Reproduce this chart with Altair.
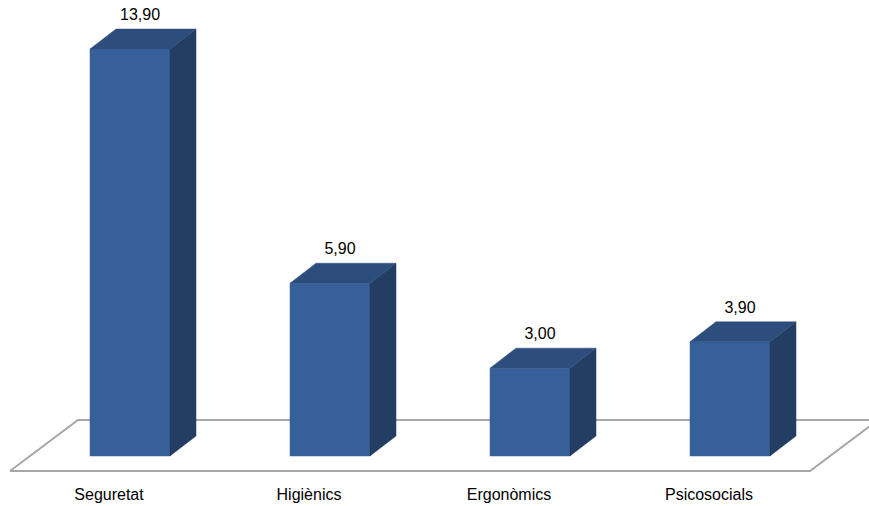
import altair as alt
import pandas as pd

# ---- data ----
categories = ["Seguretat", "Higiènics", "Ergonòmics", "Psicosocials"]
values = [13.90, 5.90, 3.00, 3.90]

# ---- 3D geometry (in data units) ----
HW = 0.2      # half bar width (category units)
DX = 0.13     # depth offset in x (category units)
DY = 0.683    # depth offset in y (value units)

XDOM = [-0.65, 3.695]
YDOM = [-1.708, 15.574]

FRONT = "#37609a"
TOP = "#2d4e7d"
SIDE = "#233e62"

front_rows, side_rows, top_rows = [], [], []
for i, (c, v) in enumerate(zip(categories, values)):
    xl, xr = i - HW, i + HW
    front_rows.append({"cat": c, "x": xl, "x2": xr, "y": v, "y2": 0.0})
    side_rows += [
        {"cat": c, "x": xr, "y": v, "y2": 0.0},
        {"cat": c, "x": xr + DX, "y": v + DY, "y2": DY},
    ]
    top_rows += [
        {"cat": c, "x": xl, "y": v, "y2": v},
        {"cat": c, "x": xl + DX, "y": v + DY, "y2": v},
        {"cat": c, "x": xr, "y": v + DY, "y2": v},
        {"cat": c, "x": xr + DX, "y": v + DY, "y2": v + DY},
    ]

label_df = pd.DataFrame({
    "cat": categories,
    "v": values,
    "xc": [i + 0.05 for i in range(len(categories))],
    "yt": [v + DY for v in values],
    "xl": [i - 0.105 for i in range(len(categories))],
})

FL_FRONT_Y = -0.512
FL_BACK_Y = 1.23
FL_DX = 0.34
floor_pts = [(-0.6, FL_FRONT_Y), (3.4, FL_FRONT_Y), (3.4 + FL_DX, FL_BACK_Y),
             (-0.6 + FL_DX, FL_BACK_Y), (-0.6, FL_FRONT_Y)]
floor_df = pd.DataFrame({"o": range(len(floor_pts)),
                         "x": [p[0] for p in floor_pts],
                         "y": [p[1] for p in floor_pts]})

xs = alt.Scale(domain=XDOM, nice=False, zero=False)
ys = alt.Scale(domain=YDOM, nice=False, zero=False)
X = lambda f: alt.X(f, type="quantitative", scale=xs, axis=None)
Y = lambda f: alt.Y(f, type="quantitative", scale=ys, axis=None)

floor = alt.Chart(floor_df).mark_line(color="#a6a6a6", strokeWidth=2, clip=True).encode(
    x=X("x"), y=Y("y"), order="o:Q")

front = alt.Chart(pd.DataFrame(front_rows)).mark_rect(color=FRONT, stroke=FRONT, strokeWidth=0.5).encode(
    x=X("x"), x2="x2", y=Y("y"), y2="y2")

side = alt.Chart(pd.DataFrame(side_rows)).mark_area(color=SIDE, stroke=SIDE, strokeWidth=0.5).encode(
    x=X("x"), y=Y("y"), y2="y2", detail="cat:N")

top = alt.Chart(pd.DataFrame(top_rows)).mark_area(color=TOP, stroke=TOP, strokeWidth=0.5).encode(
    x=X("x"), y=Y("y"), y2="y2", detail="cat:N")

vlabels = alt.Chart(label_df).transform_calculate(
    txt="replace(format(datum.v, '.2f'), '.', ',')"
).mark_text(font="Liberation Sans", fontSize=16, color="#000000", dy=-14,
            baseline="middle").encode(
    x=X("xc"), y=Y("yt"), text="txt:N")

clabels = alt.Chart(label_df).transform_calculate(ypos="-1.33").mark_text(
    font="Liberation Sans", fontSize=16, color="#000000", baseline="middle").encode(
    x=X("xl"), y=Y("ypos"), text="cat:N")

chart = alt.layer(floor, front, side, top, vlabels, clabels).properties(
    width=869, height=506, padding=0, autosize=alt.AutoSizeParams(type="none"),
    background="white"
).configure_view(stroke=None)

chart.save("out.html", embed_options={"renderer": "svg", "actions": False})
